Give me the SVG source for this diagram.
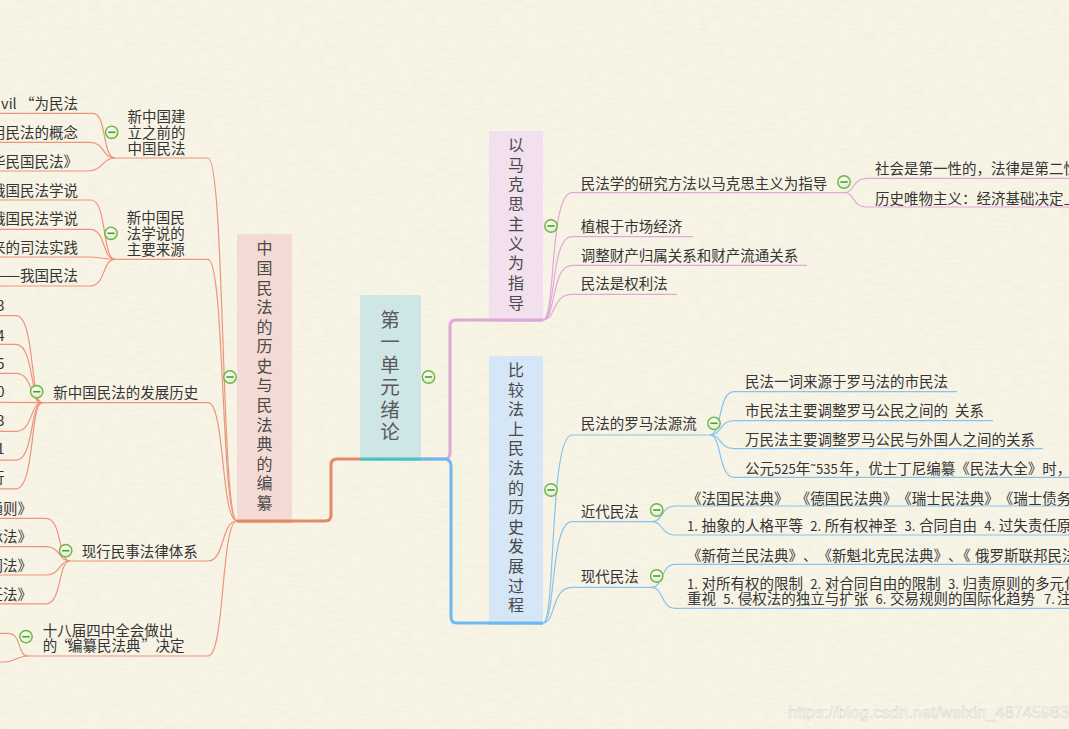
<svg xmlns="http://www.w3.org/2000/svg" width="1069" height="729" viewBox="0 0 1069 729">
<defs>
<filter id="paper" x="0" y="0" width="100%" height="100%">
<feTurbulence type="fractalNoise" baseFrequency="0.08 0.35" numOctaves="3" seed="4" result="n"/>
<feColorMatrix type="matrix" values="0 0 0 0 0.55  0 0 0 0 0.5  0 0 0 0 0.4  0 0 0 0.9 -0.3"/>
</filter>
<radialGradient id="cg" cx="0.4" cy="0.35" r="0.7">
<stop offset="0" stop-color="#ffffff"/>
<stop offset="1" stop-color="#d8ecc8"/>
</radialGradient>
<g id="c">
<circle r="6.2" fill="url(#cg)" stroke="#6fb43f" stroke-width="1.4"/>
<line x1="-3.6" y1="0" x2="3.6" y2="0" stroke="#4f9a2c" stroke-width="1.6"/>
</g>
<style>
.t{font-family:"Noto Sans CJK SC","Noto Sans",sans-serif;font-size:14.5px;fill:#353535;text-spacing-trim:space-all}
.d{font-size:13px}
.v{font-family:"Noto Sans CJK SC",sans-serif;font-size:16px;fill:#4a4a4a;text-anchor:middle}
.vc{font-family:"Noto Sans CJK SC",sans-serif;font-size:19.5px;fill:#5a5a5a;text-anchor:middle}
.e{text-anchor:end}
.ls{fill:none;stroke:#eb957c;stroke-width:1.2}
.lp{fill:none;stroke:#e1a8da;stroke-width:1.2}
.lb{fill:none;stroke:#86c3ee;stroke-width:1.2}
.wm{font-family:"Liberation Sans",sans-serif;font-size:16.5px;fill:#ffffff;stroke:#d9d6c8;stroke-width:0.6}
</style>
</defs>
<rect width="1069" height="729" fill="#f8f5e7"/>
<rect width="1069" height="729" filter="url(#paper)" opacity="0.18"/>

<g id="connectors">
<path d="M360,459 L337,459 Q331,459 331,465 L331,515 Q331,521 325,521 L237,521" fill="none" stroke="#e3876d" stroke-width="3"/>
<path d="M421,459 L444,459 Q450,459 450,453 L450,326 Q450,320 456,320 L543,320" fill="none" stroke="#dfa6d8" stroke-width="3"/>
<path d="M421,459 L444,459 Q451,459 451,466 L451,617 Q451,623 457,623 L543,623" fill="none" stroke="#6cb9ef" stroke-width="3"/>
<line x1="360" y1="459" x2="421" y2="459" stroke="#4dbfc5" stroke-width="3"/>

<path class="ls" d="M237,521 C221,521 225,158 208,158 L115,158"/>
<path class="ls" d="M237,521 C221,521 225,259.3 208,259.3 L115,259.3"/>
<path class="ls" d="M237,521 C221,521 225,402.7 208,402.7 L42,402.7"/>
<path class="ls" d="M237,521 C221,521 225,561 208,561 L70,561"/>
<path class="ls" d="M237,521 C221,521 225,656 208,656 L28,656"/>
<path class="ls" d="M115,158 C102,158 107,113.3 93,113.3 L0,113.3"/>
<path class="ls" d="M115,158 C102,158 105,142.3 90,142.3 L0,142.3"/>
<path class="ls" d="M115,158 C102,158 103,171 88,171 L0,171"/>
<path class="ls" d="M115,259.3 C102,259.3 107,200 91,200 L0,200"/>
<path class="ls" d="M115,259.3 C102,259.3 106,229.3 90,229.3 L0,229.3"/>
<path class="ls" d="M115,259.3 C105,259.3 100,257 88,257 L0,257"/>
<path class="ls" d="M115,259.3 C102,259.3 106,286 90,286 L0,286"/>
<path class="ls" d="M42,402.7 C30,402.7 35,315.7 16,315.7 L0,315.7"/>
<path class="ls" d="M42,402.7 C30,402.7 34,344.3 16,344.3 L0,344.3"/>
<path class="ls" d="M42,402.7 C30,402.7 33,373.3 16,373.3 L0,373.3"/>
<path class="ls" d="M42,402.7 L0,402.3"/>
<path class="ls" d="M42,402.7 C30,402.7 33,431.3 16,431.3 L0,431.3"/>
<path class="ls" d="M42,402.7 C30,402.7 34,460.2 16,460.2 L0,460.2"/>
<path class="ls" d="M42,402.7 C30,402.7 35,488.8 16,488.8 L0,488.8"/>
<path class="ls" d="M70,561 C58,561 62,518.3 46,518.3 L0,518.3"/>
<path class="ls" d="M70,561 C58,561 61,546.7 46,546.7 L0,546.7"/>
<path class="ls" d="M70,561 C58,561 61,575 46,575 L0,575"/>
<path class="ls" d="M70,561 C58,561 62,603.8 46,603.8 L0,603.8"/>
<path class="ls" d="M28,656 C17,656 22,633.3 8,633.3 L0,633.3"/>
<path class="ls" d="M28,656 C18,656 14,662 4,662 L0,662"/>

<path class="lp" d="M543,320 C556,320 549,192.7 572,192.7 L845,192.7"/>
<path class="lp" d="M543,320 C556,320 550,236.7 572,236.7 L693,236.7"/>
<path class="lp" d="M543,320 C556,320 551,265.3 572,265.3 L807,265.3"/>
<path class="lp" d="M543,320 C556,320 552,294.3 572,294.3 L677,294.3"/>
<path class="lp" d="M845,192.7 C854,192.7 853,178.3 866,178.3 L1069,178.3"/>
<path class="lp" d="M845,192.7 C854,192.7 853,207 866,207 L1069,207"/>

<path class="lb" d="M543,623 C556,623 549,435 572,435 L710,435"/>
<path class="lb" d="M543,623 C556,623 550,521.7 572,521.7 L652,521.7"/>
<path class="lb" d="M543,623 C556,623 551,587.3 572,587.3 L652,587.3"/>
<path class="lb" d="M710,435 C722,435 718,391.7 734,391.7 L957,391.7"/>
<path class="lb" d="M710,435 C722,435 719,420.7 734,420.7 L993,420.7"/>
<path class="lb" d="M710,435 C722,435 719,448.7 734,448.7 L1043,448.7"/>
<path class="lb" d="M710,435 C722,435 718,477.3 734,477.3 L1069,477.3"/>
<path class="lb" d="M652,521.7 C663,521.7 661,506 675,506 L1069,506"/>
<path class="lb" d="M652,521.7 C663,521.7 661,535 675,535 L1069,535"/>
<path class="lb" d="M652,587.3 C663,587.3 661,564.3 675,564.3 L1069,564.3"/>
<path class="lb" d="M652,587.3 C663,587.3 661,608.3 675,608.3 L1069,608.3"/>
</g>

<g id="root">
<rect x="360" y="295" width="61" height="163" fill="#cfe6e7"/>
<line x1="360" y1="459" x2="421" y2="459" stroke="#4dbfc5" stroke-width="3"/>
<text class="vc"><tspan x="390" y="327">第</tspan><tspan x="390" y="349.4">一</tspan><tspan x="390" y="371.8">单</tspan><tspan x="390" y="394.2">元</tspan><tspan x="390" y="416.6">绪</tspan><tspan x="390" y="439">论</tspan></text>
<use href="#c" x="428.5" y="377"/>
</g>

<g id="n-history">
<rect x="237" y="234" width="55" height="286" fill="#f4dad4"/>
<line x1="237" y1="521" x2="292" y2="521" stroke="#e3876d" stroke-width="3"/>
<text class="v"><tspan x="264.5" y="254.3">中</tspan><tspan x="264.5" y="273.9">国</tspan><tspan x="264.5" y="293.5">民</tspan><tspan x="264.5" y="313.1">法</tspan><tspan x="264.5" y="332.6">的</tspan><tspan x="264.5" y="352.2">历</tspan><tspan x="264.5" y="371.8">史</tspan><tspan x="264.5" y="391.4">与</tspan><tspan x="264.5" y="411">民</tspan><tspan x="264.5" y="430.6">法</tspan><tspan x="264.5" y="450.2">典</tspan><tspan x="264.5" y="469.8">的</tspan><tspan x="264.5" y="489.4">编</tspan><tspan x="264.5" y="509">纂</tspan></text>
<use href="#c" x="230" y="377"/>
</g>

<g id="n-marx">
<rect x="489" y="131" width="54" height="188" fill="#f2e0ee"/>
<line x1="489" y1="320" x2="543" y2="320" stroke="#dfa6d8" stroke-width="3"/>
<text class="v"><tspan x="516" y="151">以</tspan><tspan x="516" y="170.7">马</tspan><tspan x="516" y="190.4">克</tspan><tspan x="516" y="210.1">思</tspan><tspan x="516" y="229.8">主</tspan><tspan x="516" y="249.5">义</tspan><tspan x="516" y="269.2">为</tspan><tspan x="516" y="288.9">指</tspan><tspan x="516" y="308.6">导</tspan></text>
<use href="#c" x="551" y="226"/>
</g>

<g id="n-compare">
<rect x="489" y="356" width="54" height="266" fill="#d5e6f6"/>
<line x1="489" y1="623" x2="543" y2="623" stroke="#6cb9ef" stroke-width="3"/>
<text class="v"><tspan x="516" y="376">比</tspan><tspan x="516" y="395.6">较</tspan><tspan x="516" y="415.2">法</tspan><tspan x="516" y="434.8">上</tspan><tspan x="516" y="454.4">民</tspan><tspan x="516" y="474">法</tspan><tspan x="516" y="493.6">的</tspan><tspan x="516" y="513.2">历</tspan><tspan x="516" y="532.8">史</tspan><tspan x="516" y="552.4">发</tspan><tspan x="516" y="572">展</tspan><tspan x="516" y="591.6">过</tspan><tspan x="516" y="611.2">程</tspan></text>
<use href="#c" x="551" y="490"/>
</g>

<g id="n-before">
<text class="t"><tspan x="127.5" y="121.8">新中国建</tspan><tspan x="127.5" y="137.8">立之前的</tspan><tspan x="127.5" y="153.6">中国民法</tspan></text>
<use href="#c" x="111.7" y="132.3"/>
</g>
<g id="n-before-1"><text class="t e" x="78" y="109">vil “为民法</text></g>
<g id="n-before-2"><text class="t e" x="78" y="138">用民法的概念</text></g>
<g id="n-before-3"><text class="t e" x="78" y="166.5">华民国民法》</text></g>

<g id="n-source">
<text class="t"><tspan x="126.7" y="222.8">新中国民</tspan><tspan x="126.7" y="238.8">法学说的</tspan><tspan x="126.7" y="254.8">主要来源</tspan></text>
<use href="#c" x="111" y="233.3"/>
</g>
<g id="n-source-1"><text class="t e" x="78" y="196">俄国民法学说</text></g>
<g id="n-source-2"><text class="t e" x="78" y="224">俄国民法学说</text></g>
<g id="n-source-3"><text class="t e" x="78" y="253">来的司法实践</text></g>
<g id="n-source-4"><text class="t e" x="78" y="281">——我国民法</text></g>

<g id="n-develop">
<text class="t" x="53.3" y="398">新中国民法的发展历史</text>
<use href="#c" x="36.7" y="391.7"/>
</g>
<g id="n-develop-1"><text class="t e" x="4.5" y="310.5">3</text></g>
<g id="n-develop-2"><text class="t e" x="4.5" y="340.5">4</text></g>
<g id="n-develop-3"><text class="t e" x="4.5" y="369">5</text></g>
<g id="n-develop-4"><text class="t e" x="4.5" y="397">0</text></g>
<g id="n-develop-5"><text class="t e" x="4.5" y="425.5">3</text></g>
<g id="n-develop-6"><text class="t e" x="4.5" y="454">1</text></g>
<g id="n-develop-7"><text class="t e" x="4.5" y="483">行</text></g>

<g id="n-system">
<text class="t" x="81.7" y="557">现行民事法律体系</text>
<use href="#c" x="65.7" y="550.7"/>
</g>
<g id="n-system-1"><text class="t e" x="32" y="514">民法通则》</text></g>
<g id="n-system-2"><text class="t e" x="32" y="542">继承法》</text></g>
<g id="n-system-3"><text class="t e" x="32" y="570.5">合同法》</text></g>
<g id="n-system-4"><text class="t e" x="32" y="599.5">侵权责任法》</text></g>

<g id="n-decision">
<text class="t"><tspan x="42.7" y="635.5">十八届四中全会做出</tspan><tspan x="42.7" y="650.5">的</tspan><tspan x="56" y="650.5">“</tspan><tspan x="68" y="650.5">编纂民法典</tspan><tspan x="141.5" y="650.5">”</tspan><tspan x="155.5" y="650.5">决定</tspan></text>
<use href="#c" x="26" y="636.7"/>
</g>

<g id="n-method">
<text class="t" x="580.7" y="189">民法学的研究方法以马克思主义为指导</text>
<use href="#c" x="844" y="182"/>
</g>
<g id="n-method-1"><text class="t" x="875" y="174">社会是第一性的，法律是第二性的</text></g>
<g id="n-method-2"><text class="t" x="875" y="204">历史唯物主义：经济基础决定上</text></g>
<g id="n-market"><text class="t" x="580.7" y="231.8">植根于市场经济</text></g>
<g id="n-property"><text class="t" x="580.7" y="260.6">调整财产归属关系和财产流通关系</text></g>
<g id="n-rights"><text class="t" x="580.7" y="289">民法是权利法</text></g>

<g id="n-roman">
<text class="t" x="580.7" y="429">民法的罗马法源流</text>
<use href="#c" x="714" y="423.3"/>
</g>
<g id="n-roman-1"><text class="t" x="745" y="387">民法一词来源于罗马法的市民法</text></g>
<g id="n-roman-2"><text class="t" y="416"><tspan x="745">市民法主要调整罗马公民之间的 </tspan><tspan x="955">关系</tspan></text></g>
<g id="n-roman-3"><text class="t" x="745" y="444.8">万民法主要调整罗马公民与外国人之间的关系</text></g>
<g id="n-roman-4"><text class="t" y="473.5"><tspan x="745">公元</tspan><tspan class="d" x="774">525</tspan><tspan x="795.75">年</tspan><tspan class="d" x="810.25">˜535</tspan><tspan x="839.25">年，优士丁尼编纂《民法大全》时，</tspan></text></g>

<g id="n-modern-early">
<text class="t" x="580.7" y="517">近代民法</text>
<use href="#c" x="656.7" y="510"/>
</g>
<g id="n-modern-early-1"><text class="t" y="503.5"><tspan x="687">《法国民法典》 </tspan><tspan x="795.75">《德国民法典》</tspan><tspan x="897.25">《瑞士民法典》</tspan><tspan x="998.75">《瑞士债务法》</tspan></text></g>
<g id="n-modern-early-2"><text class="t" y="530.5"><tspan class="d" x="687">1.</tspan><tspan x="701.5">抽象的人格平等 </tspan><tspan class="d" x="810.25">2.</tspan><tspan x="824.75">所有权神圣 </tspan><tspan class="d" x="904.5">3.</tspan><tspan x="919">合同自由 </tspan><tspan class="d" x="984.25">4.</tspan><tspan x="998.75">过失责任原则</tspan></text></g>

<g id="n-modern">
<text class="t" x="580.7" y="582">现代民法</text>
<use href="#c" x="656.7" y="576"/>
</g>
<g id="n-modern-1"><text class="t" y="560.5"><tspan x="687">《新荷兰民法典》、</tspan><tspan x="817.5">《新魁北克民法典》、</tspan><tspan x="956">《 </tspan><tspan x="975">俄罗斯联邦民法典》</tspan></text></g>
<g id="n-modern-2"><text class="t"><tspan class="d" x="687" y="589">1.</tspan><tspan x="701.5" y="589">对所有权的限制 </tspan><tspan class="d" x="810.25" y="589">2.</tspan><tspan x="824.75" y="589">对合同自由的限制 </tspan><tspan class="d" x="948" y="589">3.</tspan><tspan x="962.5" y="589">归责原则的多元化</tspan><tspan x="687" y="604">重视 </tspan><tspan class="d" x="723.25" y="604">5.</tspan><tspan x="737.75" y="604">侵权法的独立与扩张 </tspan><tspan class="d" x="875.5" y="604">6.</tspan><tspan x="890" y="604">交易规则的国际化趋势 </tspan><tspan class="d" x="1044" y="604">7.</tspan><tspan x="1057" y="604">注</tspan></text></g>

<text class="wm" x="788" y="717.5">https://blog.csdn.net/weixin_48745983</text>
</svg>
